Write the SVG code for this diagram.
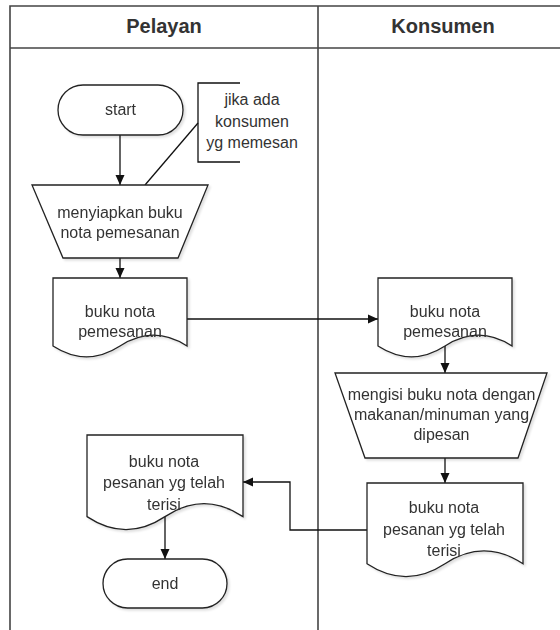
<svg xmlns="http://www.w3.org/2000/svg" width="560" height="630" viewBox="0 0 560 630">
<defs>
<style>
.frame{fill:none;stroke:#444;stroke-width:1.6}
.shape{fill:#fff;stroke:#222;stroke-width:1.3}
.edge{fill:none;stroke:#111;stroke-width:1.3}
.t{font-family:"Liberation Sans",Arial,sans-serif;font-size:16px;fill:#333;text-anchor:middle}
.h{font-family:"Liberation Sans",Arial,sans-serif;font-size:20px;font-weight:bold;fill:#333;text-anchor:middle}
</style>
<marker id="arr" markerWidth="10" markerHeight="10" refX="10" refY="5" orient="auto" markerUnits="userSpaceOnUse">
<path d="M0,0.5 L10,5 L0,9.5 Z" fill="#111"/>
</marker>
<filter id="sh" x="-10%" y="-10%" width="130%" height="130%">
<feDropShadow dx="2" dy="2" stdDeviation="1.2" flood-color="#000" flood-opacity="0.12"/>
</filter>
</defs>
<rect width="560" height="630" fill="#fff"/>
<g id="pool">
<path class="frame" d="M570,6 H10 V640"/>
<line class="frame" x1="10" y1="48" x2="570" y2="48"/>
<line class="frame" x1="318" y1="6" x2="318" y2="640"/>
<text class="h" x="164" y="33">Pelayan</text>
<text class="h" x="443" y="33">Konsumen</text>
</g>
<g id="connectors">
<path class="edge" d="M120,135 V185" marker-end="url(#arr)"/>
<path class="edge" d="M120,258 V278" marker-end="url(#arr)"/>
<path class="edge" d="M187,319 H378" marker-end="url(#arr)"/>
<path class="edge" d="M445,346 V373" marker-end="url(#arr)"/>
<path class="edge" d="M445,458 V483" marker-end="url(#arr)"/>
<path class="edge" d="M367,530 H290 V482 H243" marker-end="url(#arr)"/>
<path class="edge" d="M165,517 V559" marker-end="url(#arr)"/>
<path class="edge" d="M198,123 L145,185"/>
</g>
<g id="start" filter="url(#sh)">
<rect class="shape" x="58" y="85" width="125" height="50" rx="25" ry="25"/>
<text class="t" x="120.5" y="115">start</text>
</g>
<g id="note">
<path class="edge" d="M240,83 H198 V162 H240"/>
<text class="t" x="252" y="105">jika ada</text>
<text class="t" x="252" y="127">konsumen</text>
<text class="t" x="252" y="148">yg memesan</text>
</g>
<g id="menyiapkan" filter="url(#sh)">
<polygon class="shape" points="32,185 208,185 178,258 63,258"/>
<text class="t" x="120" y="218">menyiapkan buku</text>
<text class="t" x="120" y="238">nota pemesanan</text>
</g>
<g id="doc1" filter="url(#sh)">
<path class="shape" d="M53,278 H187 V346 Q153.5,324.4 120,346 Q86.5,367.6 53,346 Z"/>
<text class="t" x="120" y="317">buku nota</text>
<text class="t" x="120" y="337">pemesanan</text>
</g>
<g id="doc2" filter="url(#sh)">
<path class="shape" d="M378,278 H512 V346 Q478.5,324.4 445,346 Q411.5,367.6 378,346 Z"/>
<text class="t" x="445" y="317">buku nota</text>
<text class="t" x="445" y="337">pemesanan</text>
</g>
<g id="mengisi" filter="url(#sh)">
<polygon class="shape" points="335,373 547,373 518,458 365,458"/>
<text class="t" x="441.5" y="400">mengisi buku nota dengan</text>
<text class="t" x="441.5" y="420">makanan/minuman yang</text>
<text class="t" x="441.5" y="440">dipesan</text>
</g>
<g id="doc3" filter="url(#sh)">
<path class="shape" d="M367,483 H523 V563.75 Q484,538.1 445,563.75 Q406,589.4 367,563.75 Z"/>
<text class="t" x="444" y="513">buku nota</text>
<text class="t" x="444" y="535">pesanan yg telah</text>
<text class="t" x="444" y="556">terisi</text>
</g>
<g id="doc4" filter="url(#sh)">
<path class="shape" d="M87,435 H243 V516.6 Q204,490.7 165,516.6 Q126,542.5 87,516.6 Z"/>
<text class="t" x="164" y="467">buku nota</text>
<text class="t" x="164" y="488">pesanan yg telah</text>
<text class="t" x="164" y="510">terisi</text>
</g>
<g id="end" filter="url(#sh)">
<rect class="shape" x="103" y="559" width="124" height="49" rx="24.5" ry="24.5"/>
<text class="t" x="165" y="589">end</text>
</g>
</svg>
